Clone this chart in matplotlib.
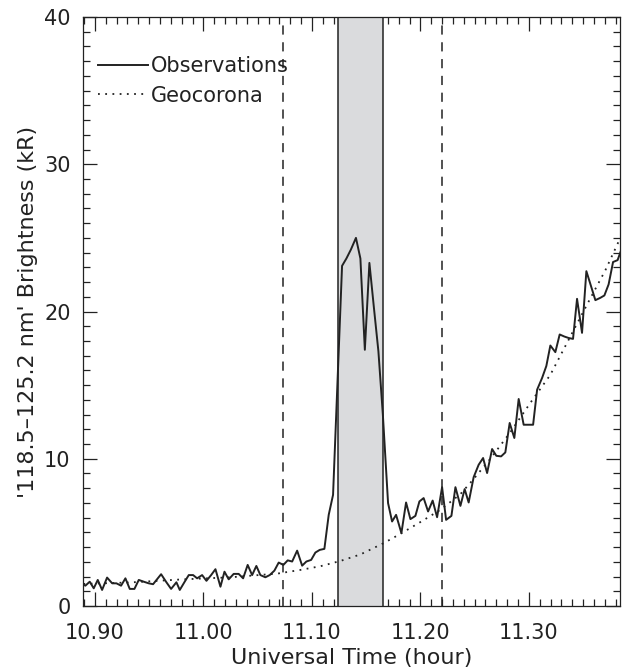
import matplotlib
matplotlib.use("Agg")
import matplotlib.pyplot as plt
from matplotlib.ticker import MultipleLocator

# Observed 118.5-125.2 nm brightness (kR) vs universal time (hour)
obs_time = [
    10.8894, 10.8912, 10.8952, 10.8989, 10.9026, 10.9066, 10.9112, 10.9159, 10.9198, 10.9241,
    10.9281, 10.9321, 10.9364, 10.9404, 10.9450, 10.9496, 10.9536, 10.9610, 10.9659, 10.9702,
    10.9751, 10.9782, 10.9825, 10.9865, 10.9905, 10.9942, 10.9988, 11.0028, 11.0071, 11.0111,
    11.0157, 11.0194, 11.0233, 11.0279, 11.0325, 11.0366, 11.0408, 11.0449, 11.0488, 11.0525,
    11.0571, 11.0611, 11.0654, 11.0694, 11.0737, 11.0777, 11.0818, 11.0864, 11.0910, 11.0949,
    11.0993, 11.1032, 11.1072, 11.1115, 11.1155, 11.1195, 11.1278, 11.1318, 11.1359, 11.1406,
    11.1447, 11.1488, 11.1530, 11.1571, 11.1613, 11.1654, 11.1702, 11.1739, 11.1776, 11.1825,
    11.1868, 11.1908, 11.1954, 11.1991, 11.2030, 11.2071, 11.2113, 11.2154, 11.2200, 11.2237,
    11.2286, 11.2323, 11.2369, 11.2408, 11.2445, 11.2491, 11.2537, 11.2578, 11.2615, 11.2661,
    11.2700, 11.2744, 11.2783, 11.2823, 11.2866, 11.2906, 11.2952, 11.2998, 11.3039, 11.3076,
    11.3122, 11.3161, 11.3198, 11.3244, 11.3284, 11.3327, 11.3367, 11.3407, 11.3444, 11.3490,
    11.3530, 11.3573, 11.3613, 11.3659, 11.3696, 11.3735, 11.3776, 11.3818, 11.3859,
]
obs_kr = [
    1.45, 1.38, 1.65, 1.20, 1.77, 1.09, 1.93, 1.54, 1.54, 1.38,
    1.88, 1.16, 1.16, 1.77, 1.65, 1.54, 1.48, 2.16, 1.61, 1.16,
    1.61, 1.09, 1.62, 2.10, 2.10, 1.88, 2.10, 1.71, 2.10, 2.50,
    1.31, 2.33, 1.81, 2.18, 2.18, 1.88, 2.79, 2.10, 2.72, 2.10,
    1.95, 2.10, 2.40, 2.95, 2.79, 3.10, 3.02, 3.76, 2.74, 3.02,
    3.13, 3.63, 3.81, 3.88, 6.19, 7.55, 23.1, 23.6, 24.2, 25.0,
    23.6, 17.4, 23.3, 20.3, 17.3, 13.0, 6.99, 5.74, 6.19, 4.95,
    7.03, 5.90, 6.12, 7.10, 7.33, 6.42, 7.16, 6.03, 8.07, 5.85,
    6.12, 8.07, 6.80, 7.94, 7.03, 8.75, 9.59, 10.05, 9.03, 10.66,
    10.2, 10.16, 10.43, 12.43, 11.41, 14.06, 12.31, 12.31, 12.31, 14.69,
    15.49, 16.3, 17.69, 17.24, 18.44, 18.3, 18.2, 18.14, 20.86, 18.55,
    22.74, 21.72, 20.77, 20.93, 21.09, 21.84, 23.36, 23.49, 24.34,
]

# Modelled geocoronal background
geo_time = [
    10.8894, 10.9327, 10.9788, 11.0249, 11.0682, 11.0894, 11.1078, 11.1263, 11.1447, 11.1659,
    11.1816, 11.2000, 11.2184, 11.2369, 11.2488, 11.2645, 11.2829, 11.3014, 11.3198, 11.3382,
    11.3567, 11.3705, 11.3843,
]
geo_kr = [
    1.5, 1.6, 1.8, 1.95, 2.2, 2.45, 2.7, 3.06, 3.5, 4.26,
    4.9, 5.7, 6.53, 7.6, 8.6, 10.0, 11.8, 13.8, 15.7, 18.3,
    20.9, 22.8, 25.0,
]

shade_start, shade_end = 11.124, 11.1656
dashed_times = [11.0737, 11.2200]

plt.rcParams['font.family'] = ['DejaVu Sans']
fig = plt.figure(figsize=(6.22, 6.71), dpi=100)
ax = fig.add_axes([83 / 622, 1 - 606 / 671, 537 / 622, 589 / 671])

# shaded interval sits above the tick marks, below the curves
ax.axvspan(shade_start, shade_end, color='#dadbdd', lw=0, zorder=2.6)
for t in (shade_start, shade_end):
    ax.axvline(t, color='#222222', lw=1.1, zorder=2.7)
for t in dashed_times:
    ax.axvline(t, color='#222222', lw=1.1, linestyle=(0, (6, 5)), zorder=1)

ax.plot(obs_time, obs_kr, color='#222222', lw=1.4, label='Observations', zorder=3)
ax.plot(geo_time, geo_kr, color='#222222', lw=1.3, linestyle=(0, (1, 3)),
        label='Geocorona', zorder=3)

ax.set_xlim(10.889, 11.384)
ax.set_ylim(0, 40)
ax.xaxis.set_major_locator(MultipleLocator(0.1))
ax.xaxis.set_minor_locator(MultipleLocator(0.01))
ax.yaxis.set_major_locator(MultipleLocator(10))
ax.yaxis.set_minor_locator(MultipleLocator(1))
ax.set_xticks([10.9, 11.0, 11.1, 11.2, 11.3])
ax.set_xticklabels(['10.90', '11.00', '11.10', '11.20', '11.30'])

ax.tick_params(which='both', direction='in', top=True, right=True, width=0.9,
               color='#222222', labelsize=15, labelcolor='#222222')
ax.tick_params(which='major', length=10)
ax.tick_params(which='minor', length=5)
ax.tick_params(axis='x', pad=12)
ax.tick_params(axis='y', pad=9)
for s in ax.spines.values():
    s.set_linewidth(0.9)
    s.set_color('#222222')
    s.set_zorder(2.8)

ax.set_xlabel('Universal Time (hour)', fontsize=16, color='#222222')
ax.set_ylabel("'118.5\u2013125.2 nm' Brightness (kR)", fontsize=16, color='#222222')
ax.xaxis.set_label_coords(0.5, -0.072)
ax.yaxis.set_label_coords(-0.083, 0.5)

ax.legend(loc='upper left', bbox_to_anchor=(0.0, 0.958), frameon=False,
          fontsize=15, handlelength=2.4, handletextpad=0.15, labelspacing=0.45,
          borderaxespad=0.3, labelcolor='#222222')

fig.savefig('out.png', dpi=100)
